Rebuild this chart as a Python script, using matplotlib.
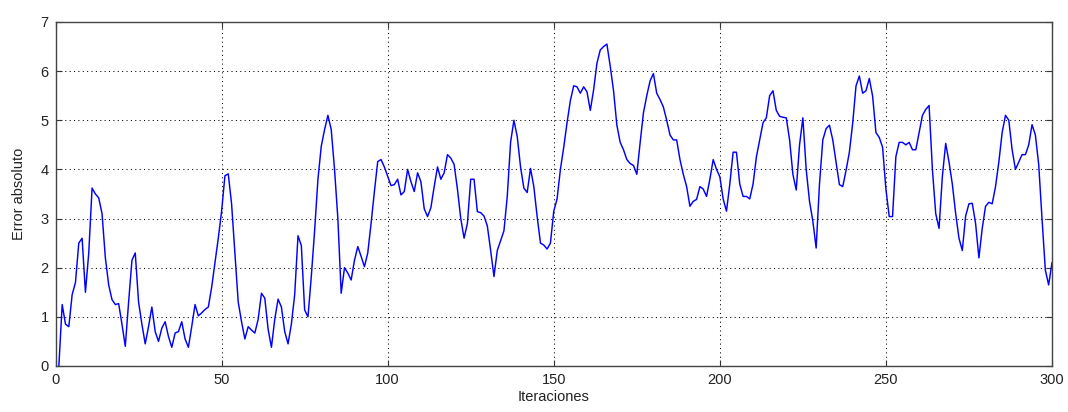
import matplotlib
matplotlib.use("Agg")
import matplotlib.pyplot as plt
from matplotlib import font_manager
import numpy as np

# Absolute error per iteration (iterations 1..300)
error_1_50 = [
    0.0, 1.25, 0.85, 0.8, 1.45, 1.7, 2.5, 2.6, 1.5, 2.3,
    3.62, 3.5, 3.42, 3.1, 2.2, 1.65, 1.35, 1.25, 1.27, 0.85,
    0.4, 1.3, 2.15, 2.3, 1.3, 0.85, 0.45, 0.8, 1.2, 0.7,
    0.5, 0.77, 0.9, 0.6, 0.38, 0.67, 0.7, 0.9, 0.55, 0.38,
    0.8, 1.25, 1.02, 1.08, 1.15, 1.2, 1.6, 2.1, 2.6, 3.15,
]
error_51_100 = [
    3.87, 3.91, 3.3, 2.3, 1.3, 0.9, 0.55, 0.8, 0.73, 0.67,
    0.95, 1.48, 1.38, 0.75, 0.38, 0.95, 1.36, 1.2, 0.7, 0.45,
    0.85, 1.45, 2.65, 2.45, 1.14, 1.0, 1.82, 2.75, 3.8, 4.47,
    4.81, 5.1, 4.81, 4.0, 3.0, 1.48, 2.0, 1.89, 1.75, 2.15,
    2.43, 2.23, 2.02, 2.3, 2.9, 3.55, 4.16, 4.2, 4.05, 3.86,
]
error_101_150 = [
    3.67, 3.69, 3.8, 3.48, 3.55, 4.0, 3.75, 3.55, 3.93, 3.75,
    3.2, 3.04, 3.22, 3.65, 4.05, 3.8, 3.93, 4.3, 4.23, 4.1,
    3.6, 3.0, 2.6, 2.9, 3.8, 3.8, 3.14, 3.12, 3.05, 2.85,
    2.35, 1.82, 2.35, 2.55, 2.75, 3.45, 4.55, 5.0, 4.67, 4.05,
    3.62, 3.53, 4.02, 3.65, 3.04, 2.5, 2.46, 2.38, 2.5, 3.15,
]
error_151_200 = [
    3.4, 4.0, 4.45, 4.95, 5.4, 5.7, 5.68, 5.55, 5.68, 5.58,
    5.2, 5.62, 6.16, 6.43, 6.5, 6.55, 6.1, 5.6, 4.9, 4.55,
    4.4, 4.2, 4.12, 4.08, 3.9, 4.54, 5.15, 5.5, 5.8, 5.95,
    5.55, 5.42, 5.27, 5.0, 4.7, 4.6, 4.6, 4.2, 3.9, 3.65,
    3.25, 3.35, 3.39, 3.65, 3.6, 3.45, 3.8, 4.2, 4.0, 3.85,
]
error_201_250 = [
    3.4, 3.15, 3.7, 4.35, 4.35, 3.7, 3.45, 3.45, 3.4, 3.7,
    4.25, 4.6, 4.95, 5.05, 5.5, 5.6, 5.2, 5.08, 5.06, 5.05,
    4.6, 3.9, 3.58, 4.5, 5.05, 4.0, 3.35, 2.95, 2.4, 3.7,
    4.6, 4.83, 4.9, 4.6, 4.15, 3.69, 3.65, 3.98, 4.35, 4.94,
    5.7, 5.9, 5.55, 5.6, 5.85, 5.49, 4.75, 4.65, 4.45, 3.6,
]
error_251_300 = [
    3.04, 3.04, 4.26, 4.55, 4.55, 4.5, 4.55, 4.4, 4.4, 4.75,
    5.1, 5.22, 5.3, 4.0, 3.1, 2.8, 3.86, 4.53, 4.15, 3.7,
    3.1, 2.6, 2.35, 3.05, 3.3, 3.31, 2.9, 2.2, 2.8, 3.25,
    3.33, 3.3, 3.65, 4.15, 4.75, 5.1, 5.0, 4.4, 4.0, 4.15,
    4.3, 4.3, 4.5, 4.91, 4.7, 4.1, 3.0, 1.95, 1.65, 2.1,
]

x_ticks = [0, 50, 100, 150, 200, 250, 300]
y_ticks = [0, 1, 2, 3, 4, 5, 6, 7]
x_label = "Iteraciones"
y_label = "Error absoluto"

error = np.array(error_1_50 + error_51_100 + error_101_150
                 + error_151_200 + error_201_250 + error_251_300)
iterations = np.arange(1, len(error) + 1)

available = {f.name for f in font_manager.fontManager.ttflist}
family = "Liberation Sans Narrow" if "Liberation Sans Narrow" in available else "Liberation Sans"
plt.rcParams["font.family"] = [family, "DejaVu Sans"]
plt.rcParams["font.size"] = 10.5

fig = plt.figure(figsize=(10.68, 4.12), dpi=100)
ax = fig.add_axes([0.052, 0.1117, 0.933, 0.835])

ax.plot(iterations, error, color=(0, 0, 1), linewidth=1.05)

ax.set_xlim(0, 300)
ax.set_ylim(0, 7)
ax.set_xticks(x_ticks)
ax.set_yticks(y_ticks)

ax.grid(True, color="black", linestyle=(0, (1, 3.2)), linewidth=0.75)
ax.tick_params(direction="in", length=4, width=0.8, colors="#333333",
               top=True, right=True, labelcolor="#222222", pad=5)
for s in ax.spines.values():
    s.set_color("#444444")
    s.set_linewidth(1.0)

ax.set_xlabel(x_label, labelpad=2, color="#222222")
ax.set_ylabel(y_label, labelpad=10, color="#222222")

fig.savefig("out.png", dpi=100, facecolor="white")
